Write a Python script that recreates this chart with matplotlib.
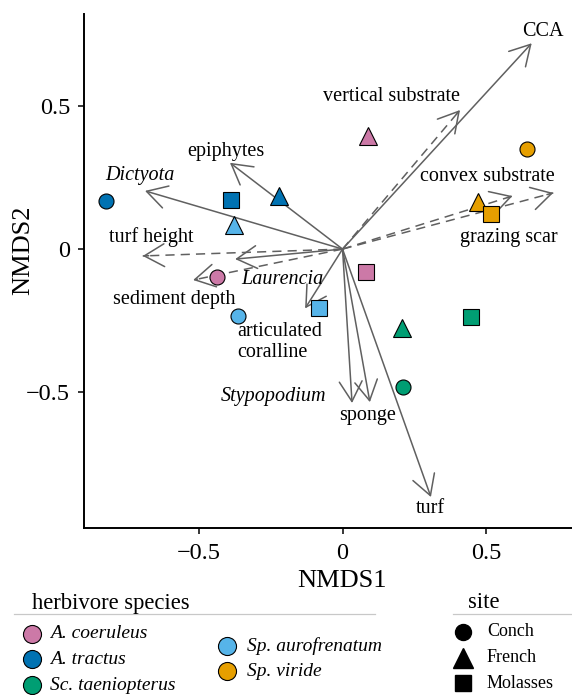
import matplotlib
matplotlib.use("Agg")
import matplotlib.pyplot as plt
from matplotlib.lines import Line2D

# NMDS site scores
species = ["A. coeruleus", "A. tractus", "Sc. taeniopterus", "Sp. aurofrenatum", "Sp. viride"]
sp_colors = ["#CC79A7", "#0072B2", "#009E73", "#56B4E9", "#E69F00"]
sites = ["Conch", "French", "Molasses"]
site_markers = ["o", "^", "s"]

conch_x = [-0.436, -0.821, 0.209, -0.364, 0.642]
conch_y = [-0.097, 0.168, -0.480, -0.233, 0.349]
french_x = [0.088, -0.219, 0.208, -0.376, 0.470]
french_y = [0.393, 0.186, -0.276, 0.084, 0.165]
molasses_x = [0.082, -0.387, 0.446, -0.082, 0.515]
molasses_y = [-0.079, 0.171, -0.238, -0.207, 0.124]

# fitted vectors (benthic cover = solid, substrate = dashed)
vec_names = ["CCA", "epiphytes", "Dictyota", "Laurencia", "articulated\ncoralline",
             "Stypopodium", "sponge", "turf",
             "vertical substrate", "convex substrate", "grazing scar",
             "turf height", "sediment depth"]
vec_x = [0.657, -0.391, -0.686, -0.373, -0.130, 0.033, 0.095, 0.307,
         0.408, 0.590, 0.732, -0.694, -0.519]
vec_y = [0.718, 0.301, 0.203, -0.035, -0.207, -0.537, -0.534, -0.865,
         0.485, 0.185, 0.196, -0.024, -0.108]
vec_dashed = [False] * 8 + [True] * 5
vec_italic = ["Dictyota", "Laurencia", "Stypopodium"]

# label placement (repelled positions)
lab_x = [0.695, -0.406, -0.703, -0.208, -0.366, -0.241, 0.088, 0.304,
         0.171, 0.503, 0.579, -0.663, -0.583]
lab_y = [0.758, 0.339, 0.258, -0.106, -0.324, -0.513, -0.580, -0.905,
         0.531, 0.252, 0.041, 0.043, -0.175]

plt.rcParams['font.family'] = ['Liberation Serif', 'DejaVu Serif']

W, H = 572, 695
fig = plt.figure(figsize=(W / 100, H / 100), dpi=100)
fig.patch.set_facecolor("white")

def fx(px):
    return px / W

def fy(py):
    return 1 - py / H

ax = fig.add_axes([fx(84), fy(528), fx(572) - fx(84), fy(14) - fy(528)])
ax.set_xlim(-0.898, 0.797)
ax.set_ylim(-0.973, 0.82)
for s in ["top", "right"]:
    ax.spines[s].set_visible(False)
for s in ["left", "bottom"]:
    ax.spines[s].set_linewidth(1.4)
ax.set_xticks([-0.5, 0, 0.5])
ax.set_yticks([-0.5, 0, 0.5])
ax.set_xticklabels(["\u22120.5", "0", "0.5"])
ax.set_yticklabels(["\u22120.5", "0", "0.5"])
ax.tick_params(axis="both", length=4.5, width=1.1, labelsize=17.5, colors="black")
ax.tick_params(axis="x", pad=6)
ax.tick_params(axis="y", pad=5.5)

gray = "#606060"
head = "->,head_length=0.72,head_width=0.41"
for name, vx, vy, dsh in zip(vec_names, vec_x, vec_y, vec_dashed):
    if dsh:
        ax.plot([0, vx], [0, vy], color=gray, lw=1.1, ls=(0, (6, 4)), zorder=2)
        ax.annotate("", xy=(vx, vy), xytext=(vx * 0.97, vy * 0.97),
                    arrowprops=dict(arrowstyle=head, mutation_scale=20, lw=1.1,
                                    color=gray, shrinkA=0, shrinkB=0), zorder=2)
    else:
        ax.annotate("", xy=(vx, vy), xytext=(0, 0),
                    arrowprops=dict(arrowstyle=head, mutation_scale=20, lw=1.1,
                                    color=gray, shrinkA=0, shrinkB=0), zorder=2)

for name, lx, ly in zip(vec_names, lab_x, lab_y):
    style = "italic" if name in vec_italic else "normal"
    ha = "left" if "\n" in name else "center"
    ax.text(lx, ly, name, fontsize=14.5, style=style, ha=ha, va="center",
            linespacing=1.15, zorder=4)

site_x = [conch_x, french_x, molasses_x]
site_y = [conch_y, french_y, molasses_y]
msizes = {"o": 10.8, "^": 13, "s": 11.5}
for mk, xs, ys in zip(site_markers, site_x, site_y):
    for i in range(len(species)):
        ax.plot(xs[i], ys[i], marker=mk, ms=msizes[mk], mfc=sp_colors[i],
                mec="black", mew=0.8, ls="none", zorder=3)

# axis titles
fig.text(fx(342), fy(581), "NMDS1", fontsize=19, ha="center", va="center")
fig.text(fx(23), fy(250), "NMDS2", fontsize=19, ha="center", va="center", rotation=90)

# legend: herbivore species
fig.text(fx(32), fy(604), "herbivore species", fontsize=16.3, ha="left", va="center")
fig.add_artist(Line2D([fx(14), fx(375)], [fy(614), fy(614)], color="#c8c8c8", lw=0.9))
leg_pos = [(32, 634), (32, 659), (32, 685), (227, 646), (227, 671)]
for (px, py), name, col in zip(leg_pos, species, sp_colors):
    fig.add_artist(Line2D([fx(px)], [fy(py)], marker="o", ms=13, mfc=col,
                          mec="black", mew=0.8, ls="none"))
    fig.text(fx(px + 18 if px < 100 else px + 20), fy(py), name, fontsize=14,
             style="italic", ha="left", va="center")

# legend: site
fig.text(fx(484), fy(603), "site", fontsize=16.3, ha="center", va="center")
fig.add_artist(Line2D([fx(453), fx(572)], [fy(614), fy(614)], color="#c8c8c8", lw=0.9))
site_leg_y = [632, 658, 683]
site_leg_ms = [11.5, 15, 12]
for name, mk, py, ms in zip(sites, site_markers, site_leg_y, site_leg_ms):
    fig.add_artist(Line2D([fx(463)], [fy(py)], marker=mk, ms=ms, mfc="black",
                          mec="black", ls="none"))
    fig.text(fx(487), fy(py), name, fontsize=13, ha="left", va="center")

fig.savefig("out.png", dpi=100)
